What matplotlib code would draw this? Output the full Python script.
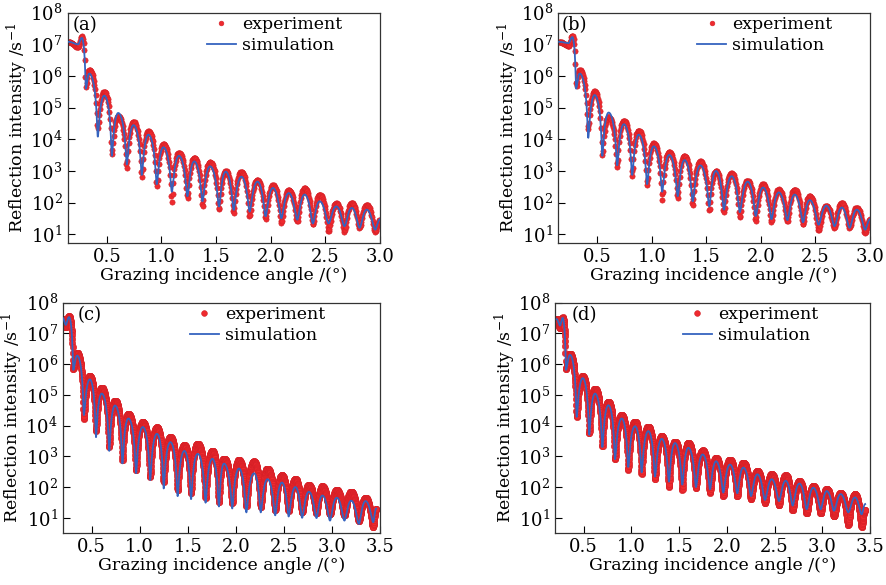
import numpy as np
import matplotlib
matplotlib.use('Agg')
import matplotlib.pyplot as plt

plt.rcParams['font.family'] = ['DejaVu Serif']
plt.rcParams['mathtext.fontset'] = 'dejavuserif'

# ---------------- data: fringe extrema ----------------
# panel (a)
a_angle = [0.150, 0.238, 0.271, 0.308, 0.338, 0.417, 0.476, 0.546, 0.604, 0.683,
           0.744, 0.820, 0.880, 0.957, 1.018, 1.095, 1.160, 1.238, 1.300, 1.375,
           1.445, 1.527, 1.588, 1.661, 1.731, 1.807, 1.878, 1.953, 2.020, 2.097,
           2.164, 2.243, 2.310, 2.386, 2.447, 2.529, 2.600, 2.675, 2.742, 2.813,
           2.879, 2.956, 3.000]
a_experiment = [1.2e7, 8.0e6, 1.8e7, 4.5e5, 1.6e6, 2.2e4, 3.2e5, 3.5e3, 5.4e4, 1.2e3,
                3.6e4, 6.5e2, 1.8e4, 3.2e2, 7.0e3, 1.0e2, 3.8e3, 1.4e2, 2.6e3, 7.5e1,
                1.9e3, 6.0e1, 1.0e3, 4.7e1, 9.5e2, 3.6e1, 5.2e2, 3.0e1, 3.6e2, 2.2e1,
                2.5e2, 2.5e1, 2.9e2, 2.0e1, 1.8e2, 1.2e1, 9.5e1, 1.2e1, 1.0e2, 1.6e1,
                8.5e1, 1.2e1, 2.9e1]
a_simulation = [1.2e7, 1.0e7, 1.6e7, 4.0e5, 1.2e6, 1.2e4, 2.4e5, 3.0e3, 6.8e4, 1.6e3,
                2.8e4, 7.5e2, 1.4e4, 3.8e2, 5.6e3, 2.2e2, 3.0e3, 1.6e2, 2.0e3, 1.1e2,
                1.4e3, 7.5e1, 9.5e2, 5.9e1, 6.6e2, 5.2e1, 4.6e2, 3.7e1, 2.9e2, 3.2e1,
                2.0e2, 2.9e1, 1.8e2, 2.2e1, 1.1e2, 2.2e1, 7.6e1, 1.8e1, 6.8e1, 1.6e1,
                6.0e1, 1.4e1, 3.0e1]

# panel (b)
b_angle = [0.150, 0.238, 0.271, 0.306, 0.338, 0.417, 0.476, 0.546, 0.604, 0.683,
           0.744, 0.820, 0.880, 0.957, 1.018, 1.095, 1.160, 1.238, 1.300, 1.375,
           1.445, 1.527, 1.588, 1.661, 1.731, 1.807, 1.878, 1.953, 2.020, 2.097,
           2.164, 2.243, 2.310, 2.386, 2.447, 2.529, 2.600, 2.675, 2.742, 2.813,
           2.879, 2.956, 3.000]
b_experiment = [1.2e7, 9.0e6, 1.9e7, 4.5e5, 1.6e6, 2.0e4, 3.3e5, 3.3e3, 5.2e4, 1.3e3,
                3.9e4, 7.0e2, 1.9e4, 3.5e2, 7.5e3, 1.2e2, 4.0e3, 1.4e2, 3.0e3, 8.0e1,
                2.0e3, 5.5e1, 1.0e3, 5.0e1, 8.5e2, 3.5e1, 5.0e2, 2.6e1, 3.8e2, 2.4e1,
                2.6e2, 2.6e1, 2.6e2, 2.0e1, 1.6e2, 1.3e1, 8.0e1, 1.6e1, 1.0e2, 1.6e1,
                7.0e1, 1.1e1, 3.0e1]
b_simulation = [1.2e7, 1.1e7, 1.7e7, 4.0e5, 1.2e6, 1.1e4, 2.5e5, 3.0e3, 7.0e4, 1.5e3,
                3.0e4, 7.5e2, 1.4e4, 3.8e2, 6.0e3, 2.2e2, 3.2e3, 1.6e2, 2.2e3, 1.1e2,
                1.5e3, 7.5e1, 1.0e3, 6.0e1, 6.8e2, 5.0e1, 4.6e2, 3.8e1, 3.0e2, 3.0e1,
                2.1e2, 2.8e1, 1.8e2, 2.4e1, 1.2e2, 2.0e1, 8.0e1, 1.8e1, 7.0e1, 1.6e1,
                6.0e1, 1.4e1, 3.0e1]

# panel (c)
c_angle = [0.200, 0.232, 0.266, 0.310, 0.350, 0.420, 0.482, 0.546, 0.605, 0.684,
           0.744, 0.821, 0.883, 0.963, 1.033, 1.110, 1.180, 1.250, 1.320, 1.395,
           1.465, 1.535, 1.604, 1.686, 1.756, 1.825, 1.877, 1.963, 2.033, 2.110,
           2.190, 2.260, 2.330, 2.410, 2.480, 2.550, 2.620, 2.690, 2.760, 2.840,
           2.900, 2.980, 3.050, 3.130, 3.200, 3.280, 3.350, 3.430, 3.460]
c_experiment = [3.0e7, 1.6e7, 3.6e7, 7.0e5, 2.3e6, 1.7e4, 4.1e5, 6.8e3, 1.7e5, 2.0e3,
                6.5e4, 7.4e2, 2.4e4, 3.5e2, 1.3e4, 2.1e2, 8.7e3, 1.5e2, 4.2e3, 8.0e1,
                2.3e3, 6.3e1, 2.6e3, 4.3e1, 1.5e3, 3.3e1, 8.5e2, 3.0e1, 7.5e2, 2.4e1,
                6.8e2, 2.2e1, 4.0e2, 1.8e1, 2.4e2, 1.7e1, 1.8e2, 1.5e1, 1.15e2, 1.4e1,
                1.05e2, 1.3e1, 8.0e1, 1.2e1, 7.0e1, 8.0e0, 4.4e1, 5.0e0, 2.0e1]
c_simulation = [3.2e7, 1.9e7, 3.4e7, 6.5e5, 1.9e6, 2.2e4, 3.2e5, 4.2e3, 1.1e5, 1.5e3,
                4.5e4, 5.8e2, 1.7e4, 2.8e2, 9.0e3, 1.7e2, 5.4e3, 9.0e1, 2.9e3, 5.0e1,
                1.5e3, 4.0e1, 1.2e3, 3.1e1, 8.3e2, 2.3e1, 5.8e2, 2.0e1, 4.0e2, 1.5e1,
                2.8e2, 1.5e1, 1.8e2, 1.2e1, 1.4e2, 1.1e1, 1.0e2, 1.0e1, 7.0e1, 9.8e0,
                5.3e1, 8.1e0, 4.5e1, 8.1e0, 3.6e1, 6.3e0, 3.5e1, 7.2e0, 2.0e1]

# panel (d)
d_angle = [0.218, 0.252, 0.280, 0.315, 0.357, 0.427, 0.490, 0.559, 0.619, 0.696,
           0.759, 0.829, 0.899, 0.968, 1.038, 1.108, 1.177, 1.248, 1.318, 1.394,
           1.457, 1.534, 1.597, 1.677, 1.747, 1.824, 1.887, 1.963, 2.033, 2.110,
           2.173, 2.254, 2.320, 2.400, 2.470, 2.547, 2.617, 2.690, 2.760, 2.837,
           2.906, 2.984, 3.047, 3.123, 3.193, 3.273, 3.343, 3.413, 3.450]
d_experiment = [2.9e7, 1.5e7, 3.3e7, 7.0e5, 2.2e6, 1.9e4, 4.0e5, 5.6e3, 1.6e5, 2.1e3,
                5.9e4, 7.8e2, 2.2e4, 3.7e2, 1.35e4, 2.6e2, 9.3e3, 1.8e2, 4.5e3, 1.0e2,
                3.0e3, 8.0e1, 2.7e3, 9.5e1, 1.55e3, 6.5e1, 8.9e2, 5.0e1, 7.8e2, 5.0e1,
                6.2e2, 4.0e1, 3.3e2, 3.0e1, 2.6e2, 2.6e1, 2.4e2, 1.8e1, 1.55e2, 1.4e1,
                1.07e2, 1.4e1, 8.5e1, 1.1e1, 6.3e1, 6.0e0, 5.8e1, 5.0e0, 1.8e1]
d_simulation = [2.9e7, 1.8e7, 3.2e7, 6.5e5, 2.0e6, 1.9e4, 3.5e5, 5.0e3, 1.1e5, 2.0e3,
                4.6e4, 8.0e2, 1.7e4, 4.5e2, 9.5e3, 3.0e2, 6.6e3, 2.2e2, 3.7e3, 1.5e2,
                2.7e3, 1.2e2, 1.9e3, 1.0e2, 1.15e3, 8.5e1, 6.9e2, 6.6e1, 5.4e2, 6.3e1,
                4.3e2, 5.1e1, 2.6e2, 3.8e1, 1.8e2, 3.5e1, 1.6e2, 2.5e1, 1.3e2, 1.9e1,
                9.5e1, 1.9e1, 7.4e1, 1.7e1, 5.9e1, 1.5e1, 4.6e1, 1.3e1, 2.8e1]

panel_labels = ['(a)', '(b)', '(c)', '(d)']
x_ticks_ab = [0.5, 1.0, 1.5, 2.0, 2.5, 3.0]
x_ticks_cd = [0.5, 1.0, 1.5, 2.0, 2.5, 3.0, 3.5]

RED = '#ee2a2f'
RED_EDGE = '#d41f26'
BLUE = '#3563bf'


def fringe_curve(xk, yk, step):
    """Smooth rendering between the read-off fringe extrema."""
    xk = np.asarray(xk, float)
    yk = np.asarray(yk, float)
    x = np.arange(xk[0], xk[-1] + 1e-9, step)
    idx = np.clip(np.searchsorted(xk, x, side='right') - 1, 0, len(xk) - 2)
    t = (x - xk[idx]) / (xk[idx + 1] - xk[idx])
    w = (1 - np.cos(np.pi * t)) / 2
    return x, yk[idx] + (yk[idx + 1] - yk[idx]) * w


fig = plt.figure(figsize=(8.87, 5.85), dpi=100)

panels = [
    dict(rect=[0.0761, 0.5846, 0.3523, 0.3937], ang=a_angle, exp=a_experiment, sim=a_simulation,
         xlim=(0.14, 3.0), ylim=(5.3, 1e8), xt=x_ticks_ab, step=0.0055, ms=3.8,
         lab_x=0.016, leg_x=0.445),
    dict(rect=[0.6291, 0.5846, 0.3517, 0.3937], ang=b_angle, exp=b_experiment, sim=b_simulation,
         xlim=(0.14, 3.0), ylim=(5.3, 1e8), xt=x_ticks_ab, step=0.0055, ms=3.8,
         lab_x=0.012, leg_x=0.445),
    dict(rect=[0.0707, 0.0889, 0.3577, 0.3937], ang=c_angle, exp=c_experiment, sim=c_simulation,
         xlim=(0.2, 3.5), ylim=(3.2, 1e8), xt=x_ticks_cd, step=0.002, ms=4.6,
         lab_x=0.048, leg_x=0.40),
    dict(rect=[0.6257, 0.0889, 0.3551, 0.3937], ang=d_angle, exp=d_experiment, sim=d_simulation,
         xlim=(0.2, 3.5), ylim=(3.2, 1e8), xt=x_ticks_cd, step=0.002, ms=4.6,
         lab_x=0.053, leg_x=0.405),
]

for lab, p in zip(panel_labels, panels):
    ax = fig.add_axes(p['rect'])
    xe, ye = fringe_curve(p['ang'], p['exp'], p['step'])
    xs, ys = fringe_curve(p['ang'], p['sim'], 0.002)
    ax.plot(xe, ye, linestyle='none', marker='o', ms=p['ms'], color=RED,
            markeredgecolor=RED_EDGE, markeredgewidth=0.4, label='experiment', zorder=2)
    ax.plot(xs, ys, color=BLUE, lw=1.3, label='simulation', zorder=3)
    ax.set_yscale('log')
    ax.set_xlim(*p['xlim'])
    ax.set_ylim(*p['ylim'])
    ax.set_xticks(p['xt'])
    ax.set_xticklabels(['%.1f' % v for v in p['xt']])
    ax.set_yticks([10.0 ** k for k in range(1, 9)])
    ax.yaxis.set_minor_locator(matplotlib.ticker.LogLocator(base=10, subs=np.arange(2, 10)))
    ax.yaxis.set_minor_formatter(matplotlib.ticker.NullFormatter())
    ax.tick_params(which='both', direction='in', top=False, right=False, labelsize=13)
    ax.tick_params(which='major', length=5, width=0.8)
    ax.tick_params(which='minor', length=2.5, width=0.6)
    for s in ax.spines.values():
        s.set_linewidth(0.9)
        s.set_color('#333333')
    ax.set_xlabel('Grazing incidence angle /(°)', fontsize=12.5, labelpad=1)
    ax.set_ylabel('Reflection intensity /s$^{-1}$', fontsize=12.5, labelpad=0)
    ax.text(p['lab_x'], 0.985, lab, transform=ax.transAxes, fontsize=13,
            ha='left', va='top')
    ax.legend(loc='upper left', bbox_to_anchor=(p['leg_x'], 0.985), frameon=False,
              fontsize=12.5, handlelength=1.7, handletextpad=0.35, borderpad=0,
              borderaxespad=0, labelspacing=0.25, markerscale=0.9)

fig.savefig('out.png', dpi=100)
